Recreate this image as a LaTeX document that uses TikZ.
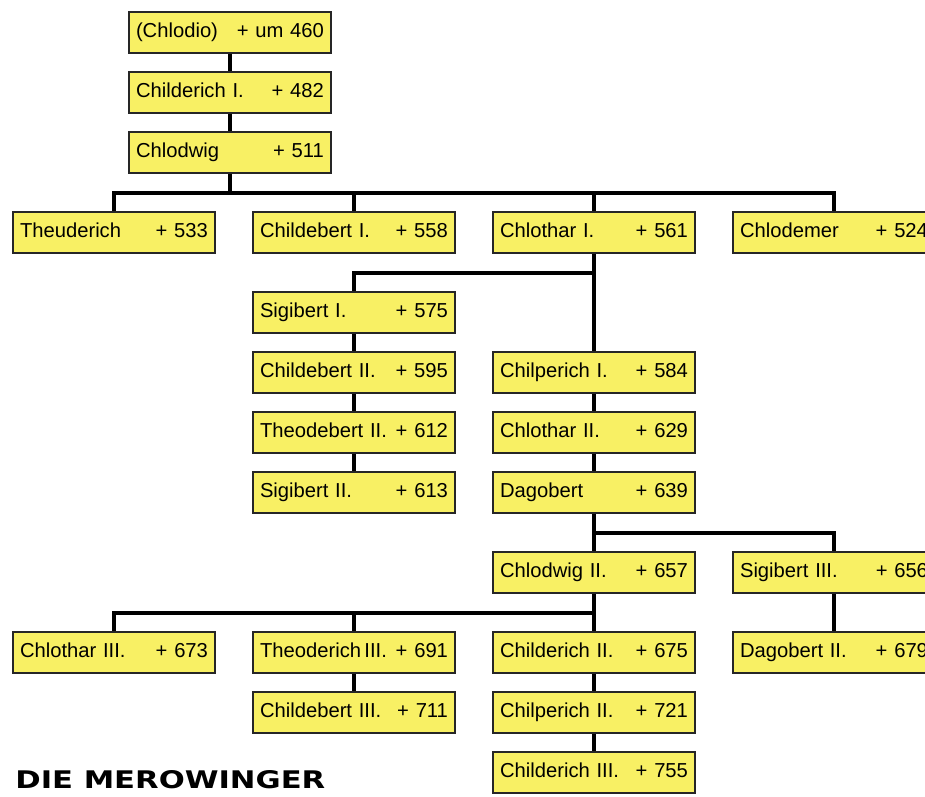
\documentclass[tikz,border=0pt]{standalone}
\usepackage{fontspec}
\usepackage{graphicx}
\setmainfont{Liberation Sans}
\newfontfamily\titlefont{DejaVu Sans}
\definecolor{boxyellow}{RGB}{248,240,100}

\begin{document}
\begin{tikzpicture}[
    x=0.02cm, y=-0.02cm,
    king/.style={draw=black!85, line width=0.8pt, fill=boxyellow, minimum height=0.82cm,
        text width=3.76cm, inner xsep=0.14cm, inner ysep=0pt, text height=0.75em, text depth=0.22em,
        font=\fontsize{11.5}{13}\selectfont},
    link/.style={line width=2.2pt, black}
]
    \useasboundingbox (0,0) rectangle (925,796);

    % Ahnen
    \node[king] (chlodio) at (230, 32.5) {(Chlodio)\hfill + um 460};
    \node[king] (childerichI) at (230, 92.5) {Childerich I.\hfill + 482};
    \node[king] (chlodwig) at (230, 152.5) {Chlodwig\hfill + 511};

    % Soehne Chlodwigs
    \node[king] (theuderich) at (114, 232.5) {Theuderich\hfill + 533};
    \node[king] (childebertI) at (354, 232.5) {Childebert I.\hfill + 558};
    \node[king] (chlotharI) at (594, 232.5) {Chlothar I.\hfill + 561};
    \node[king] (chlodemer) at (834, 232.5) {Chlodemer\hfill + 524};

    % Austrasien
    \node[king] (sigibertI) at (354, 312.5) {Sigibert I.\hfill + 575};
    \node[king] (childebertII) at (354, 372.5) {Childebert II.\hfill + 595};
    \node[king] (theodebertII) at (354, 432.5) {Theodebert II.\hfill + 612};
    \node[king] (sigibertII) at (354, 492.5) {Sigibert II.\hfill + 613};

    % Neustrien
    \node[king] (chilperichI) at (594, 372.5) {Chilperich I.\hfill + 584};
    \node[king] (chlotharII) at (594, 432.5) {Chlothar II.\hfill + 629};
    \node[king] (dagobert) at (594, 492.5) {Dagobert\hfill + 639};

    % Soehne Dagoberts
    \node[king] (chlodwigII) at (594, 572.5) {Chlodwig II.\hfill + 657};
    \node[king] (sigibertIII) at (834, 572.5) {Sigibert III.\hfill + 656};
    \node[king] (dagobertII) at (834, 652.5) {Dagobert II.\hfill + 679};

    % Soehne Chlodwigs II.
    \node[king] (chlotharIII) at (114, 652.5) {Chlothar III.\hfill + 673};
    \node[king] (theoderichIII) at (354, 652.5) {Theoderich\,III.\hfill + 691};
    \node[king] (childebertIII) at (354, 712.5) {Childebert III.\hfill + 711};
    \node[king] (childerichII) at (594, 652.5) {Childerich II.\hfill + 675};
    \node[king] (chilperichII) at (594, 712.5) {Chilperich II.\hfill + 721};
    \node[king] (childerichIII) at (594, 772.5) {Childerich III.\hfill + 755};

    % Titel
    \node[anchor=south west, inner sep=0pt] (title) at (15, 789)
        {\resizebox{6.2cm}{0.36cm}{\titlefont\bfseries DIE MEROWINGER}};

    % Verzweigungen
    \coordinate (bar1) at (230, 193);
    \coordinate (bar2) at (594, 273);
    \coordinate (bar3) at (594, 533);
    \coordinate (bar4) at (594, 613);

    % Linien
    \draw[link] (chlodio.south) -- (childerichI.north);
    \draw[link] (childerichI.south) -- (chlodwig.north);
    \draw[link] (chlodwig.south) -- (bar1);
    \draw[link] (theuderich.north) -- (theuderich |- bar1) -- (chlodemer |- bar1) -- (chlodemer.north);
    \draw[link] (childebertI.north) -- (childebertI |- bar1);
    \draw[link] (chlotharI.north) -- (chlotharI |- bar1);

    \draw[link] (chlotharI.south) -- (chilperichI.north);
    \draw[link] (sigibertI.north) -- (sigibertI |- bar2) -- (bar2);
    \draw[link] (sigibertI.south) -- (childebertII.north);
    \draw[link] (childebertII.south) -- (theodebertII.north);
    \draw[link] (theodebertII.south) -- (sigibertII.north);

    \draw[link] (chilperichI.south) -- (chlotharII.north);
    \draw[link] (chlotharII.south) -- (dagobert.north);
    \draw[link] (dagobert.south) -- (chlodwigII.north);
    \draw[link] (bar3) -- (sigibertIII |- bar3) -- (sigibertIII.north);
    \draw[link] (sigibertIII.south) -- (dagobertII.north);

    \draw[link] (chlodwigII.south) -- (childerichII.north);
    \draw[link] (chlotharIII.north) -- (chlotharIII |- bar4) -- (bar4);
    \draw[link] (theoderichIII.north) -- (theoderichIII |- bar4);
    \draw[link] (theoderichIII.south) -- (childebertIII.north);
    \draw[link] (childerichII.south) -- (chilperichII.north);
    \draw[link] (chilperichII.south) -- (childerichIII.north);
\end{tikzpicture}
\end{document}
